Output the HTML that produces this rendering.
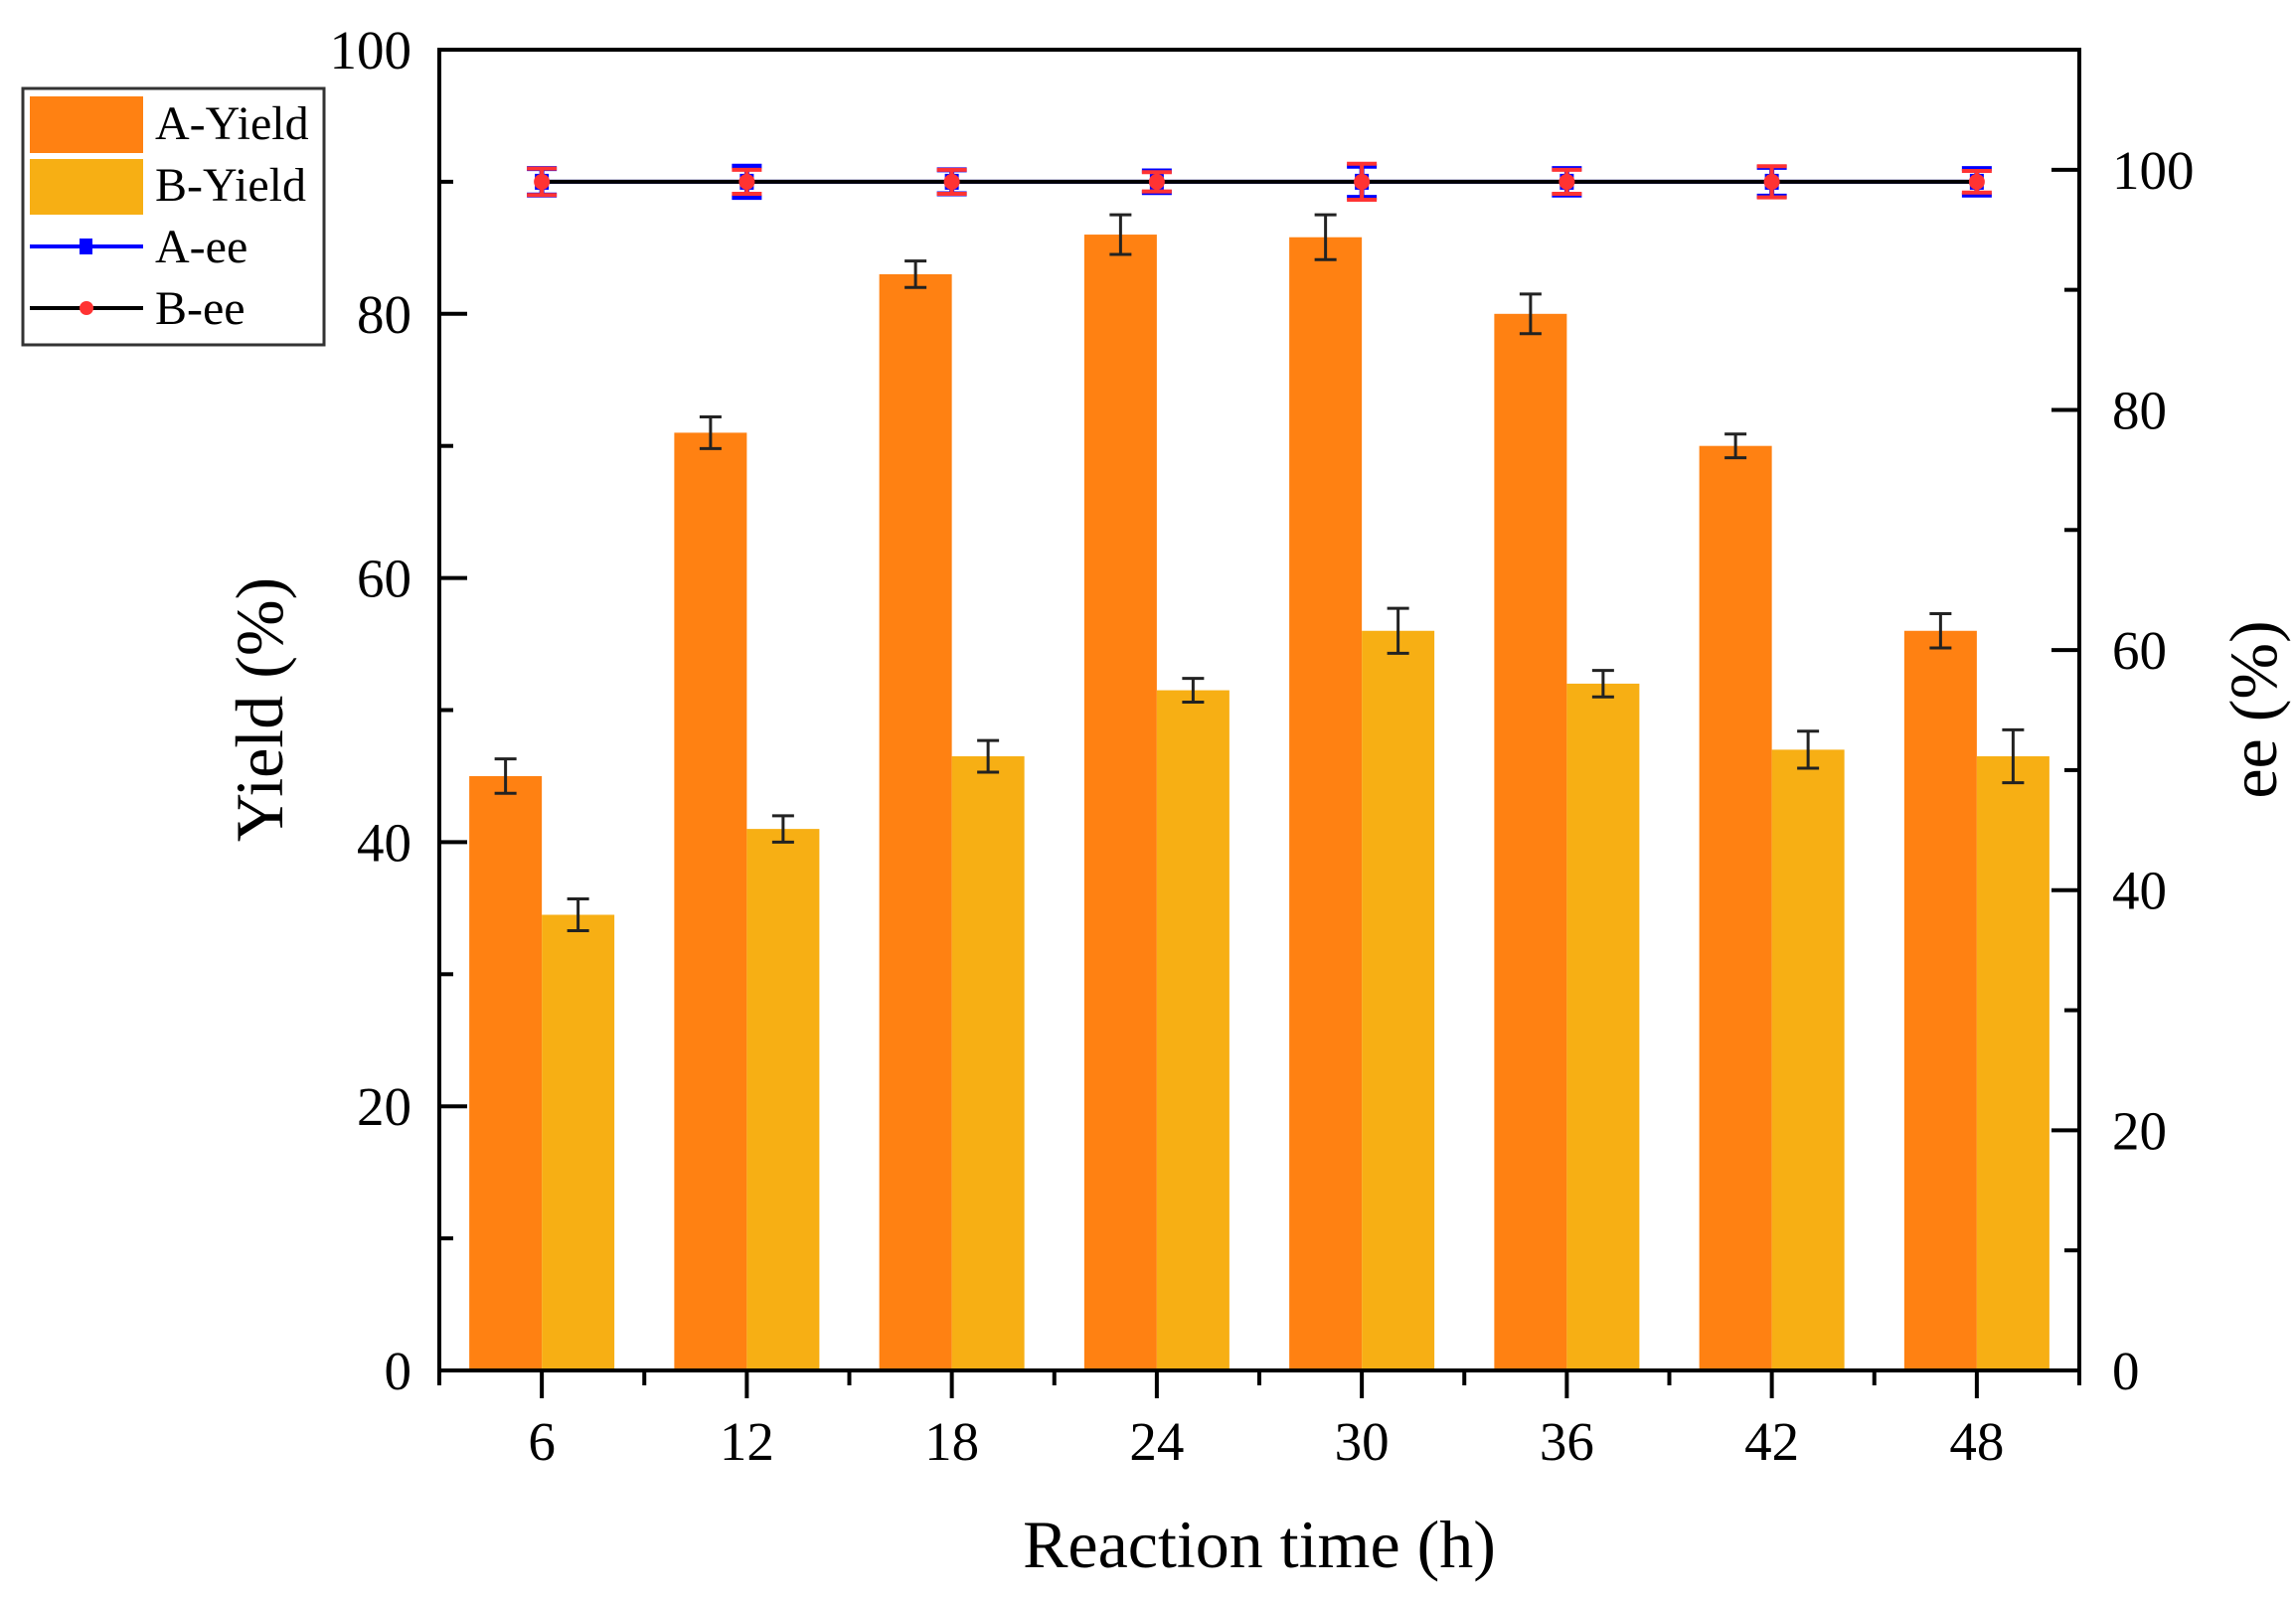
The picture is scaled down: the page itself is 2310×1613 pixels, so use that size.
<!DOCTYPE html>
<html><head><meta charset="utf-8"><style>
body{margin:0;background:#fff;}
svg text{font-family:"Liberation Serif",serif;fill:#000;}
</style></head><body>
<svg id="chart" width="2310" height="1608" viewBox="0 0 2310 1608" xmlns="http://www.w3.org/2000/svg">
<g id="bars"></g>
<g id="ee"></g>
<g id="axes"></g>
<text x="1267" y="1577" font-size="68" text-anchor="middle">Reaction time (h)</text>
<text transform="translate(284,714) rotate(-90)" font-size="68" text-anchor="middle">Yield (%)</text>
<text transform="translate(2290,714) rotate(-90)" font-size="68" text-anchor="middle">ee (%)</text>
<g>
<rect x="23" y="89" width="303" height="258" fill="#fff" stroke="#333" stroke-width="3"/>
<rect x="30" y="97" width="114" height="57" fill="#FF8112"/>
<text x="156" y="140" font-size="48">A-Yield</text>
<rect x="30" y="160" width="114" height="56" fill="#F7AF14"/>
<text x="156" y="202" font-size="48">B-Yield</text>
<line x1="30" y1="248" x2="144" y2="248" stroke="#0000FF" stroke-width="4"/>
<rect x="80" y="240" width="13" height="16" fill="#0000FF"/>
<text x="156" y="264" font-size="48">A-ee</text>
<line x1="30" y1="310" x2="144" y2="310" stroke="#000" stroke-width="4"/>
<circle cx="87" cy="310" r="7" fill="#FF3333"/>
<text x="156" y="326" font-size="48">B-ee</text>
</g>
</svg>
<script>
const categories = ["6","12","18","24","30","36","42","48"];
const aYield = [45, 71, 83, 86, 85.8, 80, 70, 56];
const aYieldErr = [1.3, 1.2, 1.0, 1.5, 1.7, 1.5, 0.9, 1.3];
const bYield = [34.5, 41, 46.5, 51.5, 56, 52, 47, 46.5];
const bYieldErr = [1.2, 1.0, 1.2, 0.9, 1.7, 1.0, 1.4, 2.0];
const aEe = [99, 99, 99, 99, 99, 99, 99, 99];
const aEeErr = [1.1, 1.3, 1.0, 0.9, 1.3, 1.1, 1.2, 1.1];
const bEe = [99, 99, 99, 99, 99, 99, 99, 99];
const bEeErr = [1.1, 1.0, 1.0, 0.8, 1.5, 1.0, 1.3, 0.9];
const leftTicks = [0, 20, 40, 60, 80, 100];
const rightTicks = [0, 20, 40, 60, 80, 100];

const NS = "http://www.w3.org/2000/svg";
const L = 442, R = 2092, T = 50, B = 1379;
const band = (R - L) / categories.length;
const xC = i => L + (i + 0.5) * band;
const yL = v => B - v / 100 * (B - T);
const yR = v => B - v / 110 * (B - T);
function mk(tag, attrs, parent) {
  const e = document.createElementNS(NS, tag);
  for (const k in attrs) e.setAttribute(k, attrs[k]);
  parent.appendChild(e);
  return e;
}
const gb = document.getElementById("bars");
const ge = document.getElementById("ee");
const ga = document.getElementById("axes");
const bw = 73;
function errbar(g, x, y1, y2, col, cap, w) {
  let e = mk("line", {x1: x, y1: y1, x2: x, y2: y2, stroke: col, "stroke-width": w}, g);
  
  
  for (const y of [y1, y2]) {
    let c = mk("line", {x1: x - cap, y1: y, x2: x + cap, y2: y, stroke: col, "stroke-width": w}, g);
    
    
  }
}
categories.forEach((c, i) => {
  const cx = xC(i);
  let a = mk("rect", {x: cx - bw, y: yL(aYield[i]), width: bw, height: B - yL(aYield[i]), fill: "#FF8112"}, gb);
  
  
  let b = mk("rect", {x: cx, y: yL(bYield[i]), width: bw, height: B - yL(bYield[i]), fill: "#F7AF14"}, gb);
  
  
  errbar(gb, cx - bw / 2, yL(aYield[i] + aYieldErr[i]), yL(aYield[i] - aYieldErr[i]), "#222", 11, 3);
  errbar(gb, cx + bw / 2, yL(bYield[i] + bYieldErr[i]), yL(bYield[i] - bYieldErr[i]), "#222", 11, 3);
});
let pa = categories.map((c, i) => xC(i) + "," + yR(aEe[i])).join(" ");
let la = mk("polyline", {points: pa, fill: "none", stroke: "#0000FF", "stroke-width": 4}, ge);


let pb = categories.map((c, i) => xC(i) + "," + yR(bEe[i])).join(" ");
let lb = mk("polyline", {points: pb, fill: "none", stroke: "#000", "stroke-width": 4}, ge);


categories.forEach((c, i) => {
  const cx = xC(i);
  errbar(ge, cx, yR(aEe[i] + aEeErr[i]), yR(aEe[i] - aEeErr[i]), "#0000FF", 15, 5);
  let m = mk("rect", {x: cx - 7, y: yR(aEe[i]) - 8, width: 14, height: 16, fill: "#0000FF"}, ge);
  
  
  errbar(ge, cx, yR(bEe[i] + bEeErr[i]), yR(bEe[i] - bEeErr[i]), "#FF3333", 15, 4);
  let p = mk("circle", {cx: cx, cy: yR(bEe[i]), r: 8, fill: "#FF3333"}, ge);
  
  
});
let fr = mk("rect", {x: L, y: T, width: R - L, height: B - T, fill: "none", stroke: "#000", "stroke-width": 4}, ga);


for (let v = 0; v <= 100; v += 10) {
  const len = v % 20 === 0 ? 28 : 14;
  let t = mk("line", {x1: L, y1: yL(v), x2: L + len, y2: yL(v), stroke: "#000", "stroke-width": 4}, ga);
  
  
}
leftTicks.forEach(v => {
  let t = mk("text", {x: 414, y: yL(v) + 19, "font-size": 55, "text-anchor": "end"}, ga);
  t.textContent = v;
  
  
});
for (let v = 0; v <= 110; v += 10) {
  const len = v % 20 === 0 ? 28 : 15;
  let t = mk("line", {x1: R, y1: yR(v), x2: R - len, y2: yR(v), stroke: "#000", "stroke-width": 4}, ga);
  
  
}
rightTicks.forEach(v => {
  let t = mk("text", {x: 2125, y: yR(v) + 19, "font-size": 55}, ga);
  t.textContent = v;
  
  
});
for (let i = 0; i <= categories.length; i++) {
  let t = mk("line", {x1: L + i * band, y1: B, x2: L + i * band, y2: B + 15, stroke: "#000", "stroke-width": 4}, ga);
  
  
}
categories.forEach((c, i) => {
  let t = mk("line", {x1: xC(i), y1: B, x2: xC(i), y2: B + 28, stroke: "#000", "stroke-width": 4}, ga);
  
  
  let l = mk("text", {x: xC(i), y: 1469, "font-size": 55, "text-anchor": "middle"}, ga);
  l.textContent = c;
  
  
});
</script>
</body></html>
